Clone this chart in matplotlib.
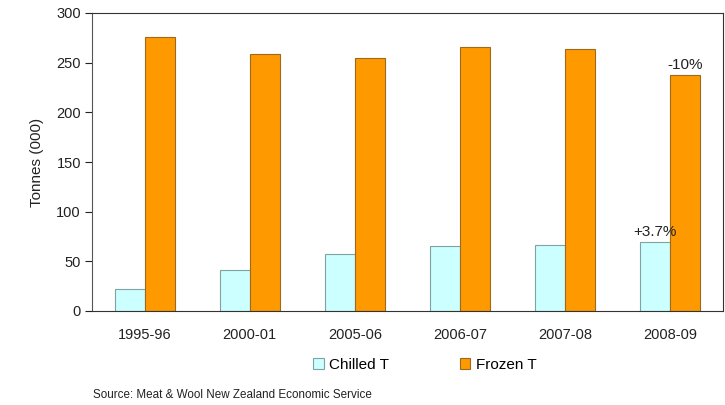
import numpy as np
import matplotlib.pyplot as plt

plt.rcParams['font.family'] = ['Liberation Sans', 'DejaVu Sans']

seasons = ['1995-96', '2000-01', '2005-06', '2006-07', '2007-08', '2008-09']
chilled = [22, 41, 57, 65, 66, 69]
frozen = [276, 259, 255, 266, 264, 238]
notes = {'chilled': '+3.7%', 'frozen': '-10%'}

fig = plt.figure(figsize=(7.25, 4.05), dpi=100)
ax = fig.add_axes([92 / 725, 1 - 311 / 405, 631 / 725, 298 / 405])

x = np.arange(len(seasons))
w = 0.286
b1 = ax.bar(x - w / 2, chilled, w, color='#CCFFFF', edgecolor='#7FA3A3',
            linewidth=0.8, label='Chilled T')
b2 = ax.bar(x + w / 2, frozen, w, color='#FF9900', edgecolor='#9C6A1C',
            linewidth=0.8, label='Frozen T')

ax.text(x[-1] - w / 2, chilled[-1] + 3, notes['chilled'], ha='center',
        va='bottom', fontsize=11, color='#222222')
ax.text(x[-1] + w / 2, frozen[-1] + 3, notes['frozen'], ha='center',
        va='bottom', fontsize=11, color='#222222')

ax.set_xlim(-0.5, len(seasons) - 0.5)
ax.set_ylim(0, 300)
ax.set_yticks(range(0, 301, 50))
ax.set_xticks(x)
ax.set_xticklabels(seasons)
ax.tick_params(axis='x', length=0, pad=12, labelsize=10.5, colors='#222222')
ax.tick_params(axis='y', length=5, width=0.8, direction='out', labelsize=10.5,
               colors='#222222', pad=3)
for s in ax.spines.values():
    s.set_color('#333333')
    s.set_linewidth(0.8)
ax.spines['left'].set_color('#555555')
ax.set_ylabel('Tonnes (000)', fontsize=11, color='#222222', labelpad=9)

fig.legend(handles=[b1, b2], loc='center', bbox_to_anchor=(425 / 725, 1 - 365 / 405),
           ncol=2, frameon=False, fontsize=11, handlelength=0.7,
           handleheight=0.7, handletextpad=0.35, columnspacing=4.6)

fig.text(93 / 725, 1 - 395 / 405, 'Source: Meat & Wool New Zealand Economic Service',
         fontsize=8.4, color='#222222', va='center')

fig.savefig('out.png', dpi=100)
